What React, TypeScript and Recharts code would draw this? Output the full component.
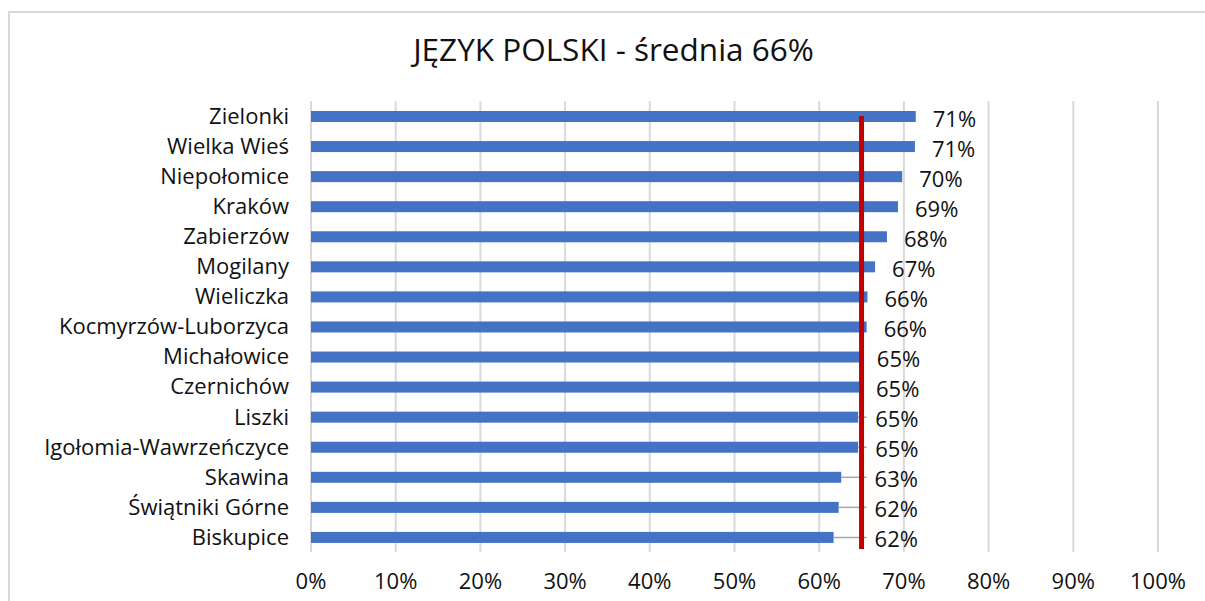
import React from 'react';
import { BarChart, Bar, XAxis, YAxis, CartesianGrid, ReferenceLine, LabelList } from 'recharts';

const categories = [
    'Zielonki',
    'Wielka Wieś',
    'Niepołomice',
    'Kraków',
    'Zabierzów',
    'Mogilany',
    'Wieliczka',
    'Kocmyrzów-Luborzyca',
    'Michałowice',
    'Czernichów',
    'Liszki',
    'Igołomia-Wawrzeńczyce',
    'Skawina',
    'Świątniki Górne',
    'Biskupice',
];

const scores = [71.4, 71.3, 69.8, 69.3, 68.0, 66.6, 65.7, 65.6, 64.8, 64.7, 64.6, 64.6, 62.6, 62.3, 61.7];

const xTicks = [0, 10, 20, 30, 40, 50, 60, 70, 80, 90, 100];

// red marker line (drawn at 65 in the source)
const markerValue = 65;

const title = 'JĘZYK POLSKI - średnia 66%';

const data = categories.map((name, i) => ({ name, value: scores[i] }));

const FONT = '"Open Sans", "Noto Sans", sans-serif';
const BLUE = '#4472C4';
const RED = '#C00000';
const GRID = '#D9D9D9';
const FS = 22;

// bar plus a grey leader line running to the marker when the bar stops short of it
const BarWithLeader = (props: any) => {
    const { x, y, width, height, payload } = props;
    const v = payload.value;
    const pxPerUnit = width / v;
    const markerX = x + markerValue * pxPerUnit;
    const cy = y + height / 2;
    return (
        <g>
            <rect x={x} y={y} width={width} height={height} fill={BLUE} />
            {x + width < markerX - 3 && (
                <line x1={x + width} x2={markerX + 5} y1={cy} y2={cy} stroke="#A6A6A6" strokeWidth={1.5} />
            )}
        </g>
    );
};

const ValueLabel = (props: any) => {
    const { x, y, width, height, value } = props;
    const pxPerUnit = width / value;
    const markerX = x + markerValue * pxPerUnit;
    const tx = Math.max(x + width + 17, markerX + 13);
    return (
        <text x={tx} y={y + height / 2 + 10} fontSize={FS} fontFamily={FONT} fill="#111">
            {Math.round(value)}%
        </text>
    );
};

const MarkerShape = (props: any) => {
    const { x1, x2, y1, y2 } = props;
    const top = Math.min(y1, y2);
    const bottom = Math.max(y1, y2);
    return <line x1={x1} x2={x2} y1={top + 15} y2={bottom - 3} stroke={RED} strokeWidth={5} />;
};

export default function App() {
    return (
        <div style={{ position: 'fixed', left: 0, top: 0, width: 1205, height: 601, background: '#fff', overflow: 'hidden' }}>
            <div
                style={{
                    position: 'absolute',
                    left: 8,
                    top: 11,
                    width: 1211,
                    height: 600,
                    border: `2px solid ${GRID}`,
                    boxSizing: 'border-box',
                    fontFamily: FONT,
                }}
            >
                <div
                    style={{
                        position: 'absolute',
                        top: 14,
                        left: 0,
                        width: '100%',
                        textAlign: 'center',
                        fontSize: 31.5,
                        color: '#111',
                    }}
                >
                    {title}
                </div>
                <BarChart
                    width={1207}
                    height={596}
                    data={data}
                    layout="vertical"
                    margin={{ top: 88, right: 59, left: 0, bottom: 0 }}
                    barCategoryGap={0}
                >
                    <CartesianGrid horizontal={false} stroke={GRID} strokeWidth={2} />
                    <XAxis
                        type="number"
                        domain={[0, 100]}
                        ticks={xTicks}
                        interval={0}
                        axisLine={false}
                        tickLine={false}
                        tickMargin={15}
                        tickFormatter={(v) => `${v}%`}
                        tick={{ fill: '#111', fontSize: FS, fontFamily: FONT }}
                        height={57}
                    />
                    <YAxis
                        type="category"
                        dataKey="name"
                        width={301}
                        interval={0}
                        axisLine={false}
                        tickLine={false}
                        tickMargin={16}
                        tick={{ fill: '#111', fontSize: FS, fontFamily: FONT }}
                    />
                    <Bar dataKey="value" barSize={11} shape={<BarWithLeader />} isAnimationActive={false}>
                        <LabelList dataKey="value" content={<ValueLabel />} />
                    </Bar>
                    <ReferenceLine x={markerValue} shape={<MarkerShape />} ifOverflow="visible" />
                </BarChart>
            </div>
        </div>
    );
}
